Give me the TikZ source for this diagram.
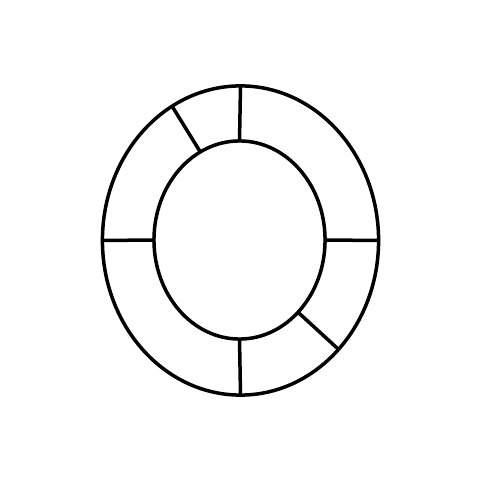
\documentclass[tikz,border=0pt]{standalone}
\usepackage{tikz}
\usetikzlibrary{shapes.geometric}

\begin{document}
\begin{tikzpicture}[x=0.01cm,y=-0.01cm,
  ring/.style={draw,ellipse,line width=0.035cm,inner sep=0pt,outer sep=0pt},
  spoke/.style={line width=0.035cm}]
    \useasboundingbox (0,0) rectangle (478,480);
    \node (ring_outer) [ring,minimum width=2.76cm,minimum height=3.09cm] at (240.5,240.5) {};
    \node (ring_inner) [ring,minimum width=1.71cm,minimum height=1.98cm] at (239.5,240) {};
    % spokes between the two rings
    \draw [spoke] (ring_inner.90) -- (ring_outer.90);
    \draw [spoke] (ring_inner.114) -- (ring_outer.117);
    \draw [spoke] (ring_inner.180) -- (ring_outer.180);
    \draw [spoke] (ring_inner.0) -- (ring_outer.0);
    \draw [spoke] (ring_inner.-51) -- (ring_outer.-48);
    \draw [spoke] (ring_inner.270) -- (ring_outer.270);
  \end{tikzpicture}
\end{document}
